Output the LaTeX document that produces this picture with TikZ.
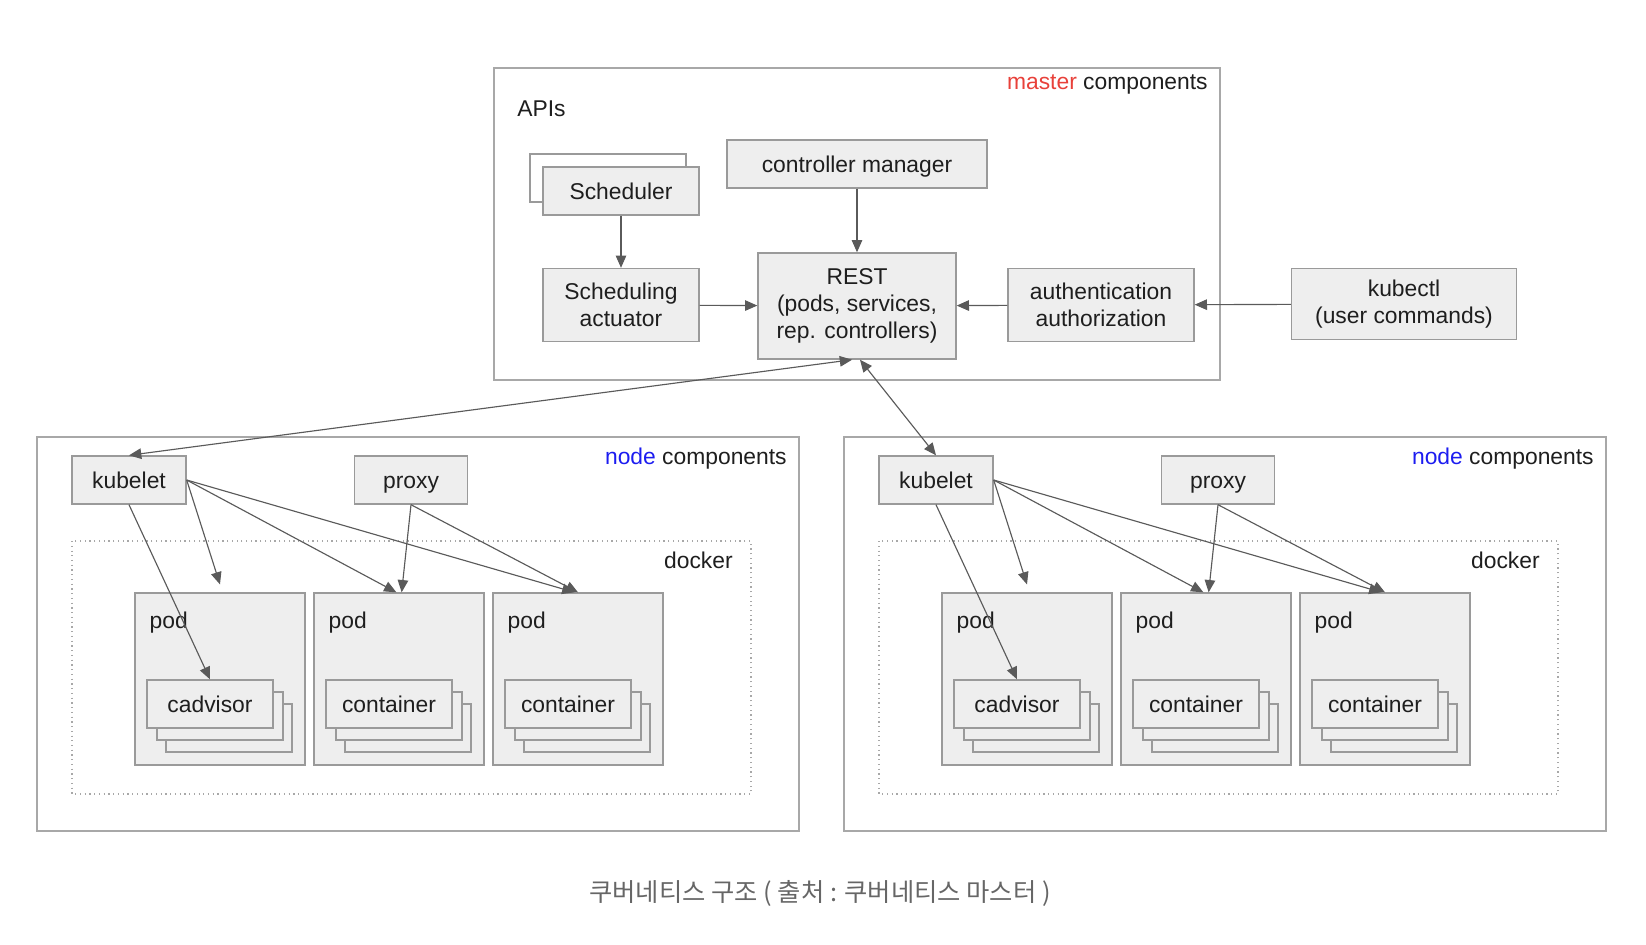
\documentclass[tikz,border=0pt]{standalone}
\usepackage{fontspec}
\setmainfont{Liberation Sans}
\newfontfamily\krfont{Noto Sans CJK KR}
\usetikzlibrary{arrows.meta}

\tikzset{
  box/.style={draw=boxGray, fill=boxFill, line width=0.8pt, minimum height=0.96cm, inner sep=0pt, align=center, text=textDark},
  oneline/.style={box, text height=11pt, text depth=1pt},
  frame/.style={draw=frameGray, line width=0.8pt},
  dock/.style={draw=frameGray, line width=0.7pt, dotted},
  lbl/.style={inner sep=0pt, text=textDark},
  link/.style={draw=lineGray, line width=0.65pt, -{Triangle[length=7pt,width=6pt]}},
  both/.style={link, {Triangle[length=7pt,width=6pt]}-{Triangle[length=7pt,width=6pt]}},
}

\begin{document}
\begin{tikzpicture}[x=0.02cm, y=-0.02cm, font=\fontsize{13}{15.5}\selectfont]

% Colori
\definecolor{boxFill}{HTML}{EEEEEE}
\definecolor{boxGray}{HTML}{9A9A9A}
\definecolor{frameGray}{HTML}{A8A8A8}
\definecolor{lineGray}{HTML}{5A5A5A}
\definecolor{textDark}{HTML}{1E1E1E}
\definecolor{masterRed}{HTML}{E8413A}
\definecolor{nodeBlue}{HTML}{1C1CF0}
\definecolor{capGray}{HTML}{666666}

\useasboundingbox (0,0) rectangle (1646,944);

% Master components
\draw[frame] (494,68) rectangle (1220,380);
\node[lbl, anchor=east] at (1208,84) {\textcolor{masterRed}{master} components};
\node[lbl, anchor=west] at (517,109) {APIs};

\node[box, fill=white, minimum width=3.12cm] (schedBack) at (608,178) {};
\node[oneline, minimum width=3.12cm] (sched) at (621,191) {Scheduler};
\node[oneline, minimum width=5.2cm] (ctrl) at (857,164) {controller manager};
\node[box, minimum width=3.12cm, minimum height=1.46cm] (actuator) at (621,305) {Scheduling\\actuator};
\node[box, minimum width=3.96cm, minimum height=2.12cm] (rest) at (857,306) {REST\\(pods, services,\\rep. controllers)};
\node[box, minimum width=3.72cm, minimum height=1.46cm] (auth) at (1101,305) {authentication\\authorization};
\node[box, minimum width=4.5cm, minimum height=1.42cm] (kubectl) at (1404,304) {kubectl\\(user commands)};

\draw[link] (sched) -- (actuator);
\draw[link] (ctrl) -- (rest);
\draw[link] (actuator) -- (rest);
\draw[link] (auth) -- (rest);
\draw[link] (kubectl) -- (auth);

% Node components (sinistra e destra)
\foreach \dx/\s in {0/L, 807/R} {
  \begin{scope}[shift={(\dx,0)}]
    \draw[frame] (37,437) rectangle (799,831);
    \node[lbl, anchor=east] at (787,459) {\textcolor{nodeBlue}{node} components};
    \draw[dock] (72,541) rectangle (751,794);
    \node[lbl, anchor=east] at (733,560) {docker};

    \node[oneline, minimum width=2.28cm] (kubelet\s) at (129,480) {kubelet};
    \node[oneline, minimum width=2.26cm] (proxy\s) at (411,480) {proxy};

    % Pod con container impilati
    \foreach \px/\k/\lab in {220/1/cadvisor, 399/2/container, 578/3/container} {
      \node[box, minimum width=3.4cm, minimum height=3.44cm] (pod\k\s) at (\px,679) {};
      \node[lbl, anchor=west] at ([shift={(15,30)}]pod\k\s.north west) {pod};
      \node[box, minimum width=2.52cm] (layerB\k\s) at (\px+9,728) {};
      \node[box, minimum width=2.52cm] (layerA\k\s) at (\px,716) {};
      \node[oneline, minimum width=2.52cm] (inner\k\s) at (\px-10,704) {\lab};
    }

    \draw[link] (kubelet\s.south) -- (inner1\s.north);
    \draw[link] (kubelet\s.east) -- ([yshift=4.5pt]pod1\s.north);
    \draw[link] (kubelet\s.east) -- ([xshift=-1.5pt]pod2\s.north);
    \draw[link] (kubelet\s.east) -- ([xshift=-2pt]pod3\s.north);
    \draw[link] (proxy\s.south) -- ([xshift=1.5pt]pod2\s.north);
    \draw[link] (proxy\s.south) -- (pod3\s.north);
  \end{scope}
}

% REST <-> kubelet
\draw[both] (kubeletL.north) -- ([xshift=-2.8pt]rest.south);
\draw[both] ([xshift=1.7pt]rest.south) -- (kubeletR.north);

% Didascalia
\node[font=\krfont\fontsize{14.4}{17}\selectfont, text=capGray] (caption) at (820,893) {쿠버네티스 구조 ( 출처 : 쿠버네티스 마스터 )};
\end{tikzpicture}
\end{document}
